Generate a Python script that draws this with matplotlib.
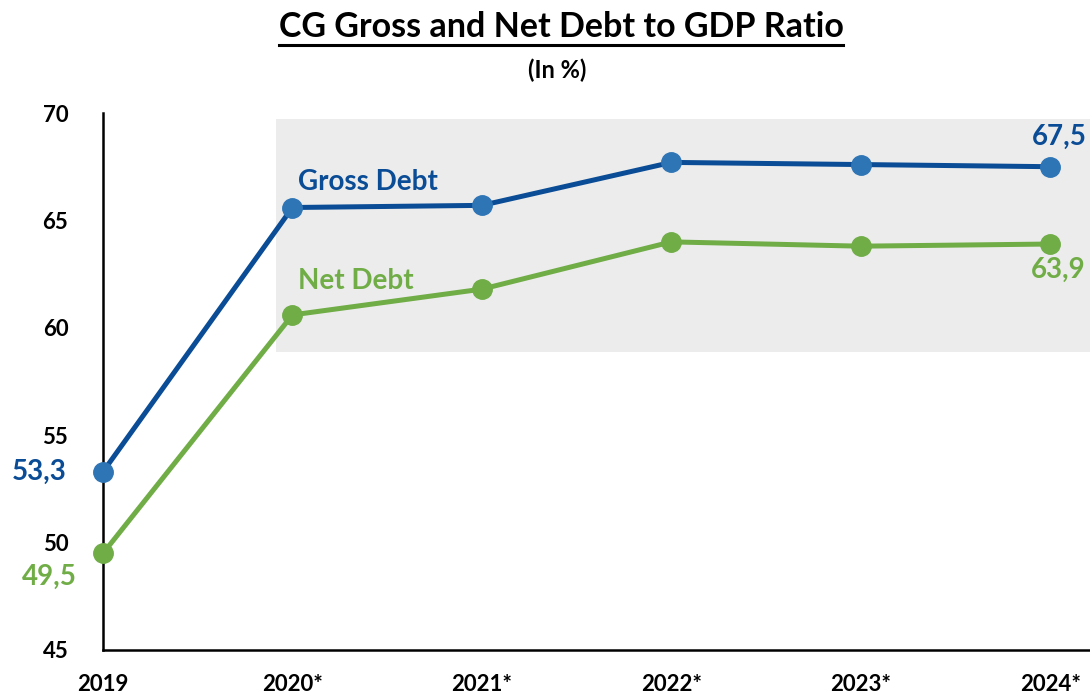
import matplotlib
matplotlib.use("Agg")
import numpy as np
from matplotlib import pyplot as plt
from matplotlib.patches import Rectangle
from matplotlib.lines import Line2D

plt.rcParams['font.family'] = ['Lato', 'DejaVu Sans']

years = ['2019', '2020*', '2021*', '2022*', '2023*', '2024*']
gross_debt = [53.3, 65.6, 65.7, 67.7, 67.6, 67.5]
net_debt = [49.5, 60.6, 61.8, 64.0, 63.8, 63.9]

BLUE_LINE = '#0A4C95'
BLUE_DOT = '#2E75B6'
GREEN = '#70AD47'
SHADE = '#ECECEC'


def fmt(v):
    return f'{v:.1f}'.replace('.', ',')


fig = plt.figure(figsize=(10.9, 6.97), dpi=100)
ax = fig.add_axes([103 / 1090, 1 - 650 / 697, 1 - 103 / 1090, (650 - 113) / 697])
x = np.arange(len(years))

# grey band behind the forecast years
ax.add_patch(Rectangle((0.913, 58.87), 10, 69.72 - 58.87, facecolor=SHADE,
                       edgecolor='none', zorder=0))

ax.plot(x, gross_debt, color=BLUE_LINE, lw=3.6, zorder=2, clip_on=False)
ax.plot(x, gross_debt, 'o', color=BLUE_DOT, ms=14, zorder=3, clip_on=False)
ax.plot(x, net_debt, color=GREEN, lw=3.6, zorder=2, clip_on=False)
ax.plot(x, net_debt, 'o', color=GREEN, ms=14, zorder=3, clip_on=False)

ax.set_xlim(0, 5.21)
ax.set_ylim(45, 70)
ax.set_yticks([45, 50, 55, 60, 65, 70])
ax.set_xticks(x)
ax.set_xticklabels(years)
ax.tick_params(length=0, labelsize=16)
ax.tick_params(axis='x', pad=17)
ax.tick_params(axis='y', pad=25)
for lbl in ax.get_xticklabels() + ax.get_yticklabels():
    lbl.set_fontweight('bold')
for s in ['top', 'right']:
    ax.spines[s].set_visible(False)
for s in ['left', 'bottom']:
    ax.spines[s].set_linewidth(1.8)

# value labels at first and last points
lab = dict(fontsize=20, fontweight='bold')
ax.text(x[0] - 0.19, gross_debt[0], fmt(gross_debt[0]), color=BLUE_LINE,
        ha='right', va='center', **lab)
ax.text(x[0] - 0.14, net_debt[0] - 1.1, fmt(net_debt[0]), color=GREEN,
        ha='right', va='center', **lab)
ax.text(x[-1] + 0.05, gross_debt[-1] + 1.4, fmt(gross_debt[-1]), color=BLUE_LINE,
        ha='center', va='center', **lab)
ax.text(x[-1] + 0.04, net_debt[-1] - 1.2, fmt(net_debt[-1]), color=GREEN,
        ha='center', va='center', **lab)

ax.text(1.03, 66.8, 'Gross Debt', color=BLUE_LINE, ha='left', va='center', **lab)
ax.text(1.03, 62.2, 'Net Debt', color=GREEN, ha='left', va='center', **lab)

title = fig.text(561 / 1090, 1 - 27 / 697, 'CG Gross and Net Debt to GDP Ratio',
                 ha='center', va='center', fontsize=24.5, fontweight='bold')
fig.text(557 / 1090, 1 - 70 / 697, '(In %)', ha='center', va='center',
         fontsize=17, fontweight='bold')

# underline the title
fig.canvas.draw()
bb = title.get_window_extent().transformed(fig.transFigure.inverted())
fig.add_artist(Line2D([bb.x0, bb.x1], [bb.y0 - 0.003, bb.y0 - 0.003],
                      color='black', lw=2.2, transform=fig.transFigure))

fig.savefig('out.png', dpi=100)
